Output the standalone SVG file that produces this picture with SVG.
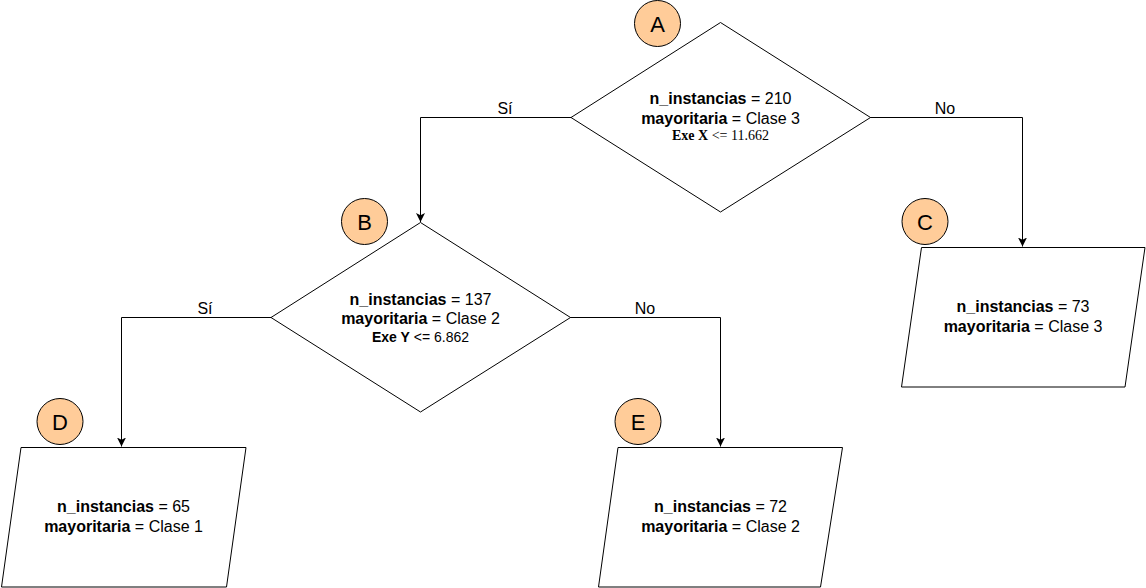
<svg xmlns="http://www.w3.org/2000/svg" width="1146" height="588" viewBox="0 0 1146 588">
<style>
.shape{fill:#fff;stroke:#000;stroke-width:1}
.badge{fill:#FFCC99;stroke:#000;stroke-width:1}
.badge-t{font-family:"Liberation Sans",Arial,sans-serif;font-size:22px;fill:#000;text-anchor:middle}
.t{font-family:"Liberation Sans",Arial,sans-serif;font-size:16px;fill:#000;text-anchor:middle}
.b{font-weight:bold}
.serif{font-family:"Liberation Serif","Times New Roman",serif;font-size:14px}
.small{font-size:14px}
.edge{fill:none;stroke:#000;stroke-width:1}
.lbl{font-family:"Liberation Sans",Arial,sans-serif;font-size:16px;fill:#000;text-anchor:middle}
</style>
<defs>
<marker id="arr" markerUnits="userSpaceOnUse" markerWidth="9" markerHeight="9" viewBox="0 0 8 8" refX="8" refY="4" orient="auto">
<path d="M0,0 L8,4 L0,8 L2,4 Z" fill="#000"/>
</marker>
</defs>
<rect width="1146" height="588" fill="#fff"/>
<g id="connectors">
<path class="edge" d="M571,117.5 H420.5 V222" marker-end="url(#arr)"/>
<text class="lbl" x="505" y="114">Sí</text>
<path class="edge" d="M870,117.5 H1022.5 V246.5" marker-end="url(#arr)"/>
<text class="lbl" x="945" y="114">No</text>
<path class="edge" d="M271,317.5 H121.5 V446.5" marker-end="url(#arr)"/>
<text class="lbl" x="205" y="314">Sí</text>
<path class="edge" d="M570,317.5 H720.5 V446.5" marker-end="url(#arr)"/>
<text class="lbl" x="645" y="314">No</text>
</g>
<g id="nodeA">
<polygon class="shape" points="720.5,22.5 870.5,117.5 720.5,212 571,117.5"/>
<text class="t" x="720.5" y="104"><tspan class="b">n_instancias</tspan> = 210</text>
<text class="t" x="720.5" y="123.5"><tspan class="b">mayoritaria</tspan> = Clase 3</text>
<text class="t serif" x="720.5" y="140"><tspan class="b">Exe X</tspan> &lt;= 11.662</text>
</g>
<g id="badgeA">
<circle class="badge" cx="657.5" cy="23.5" r="23"/>
<text class="badge-t" x="657.5" y="31.5">A</text>
</g>
<g id="nodeB">
<polygon class="shape" points="420.5,222.5 570.5,317.5 420.5,412 271,317.5"/>
<text class="t" x="420.5" y="304.5"><tspan class="b">n_instancias</tspan> = 137</text>
<text class="t" x="420.5" y="324"><tspan class="b">mayoritaria</tspan> = Clase 2</text>
<text class="t small" x="420.5" y="342"><tspan class="b">Exe Y</tspan> &lt;= 6.862</text>
</g>
<g id="badgeB">
<circle class="badge" cx="364.5" cy="221.5" r="23"/>
<text class="badge-t" x="364.5" y="229.5">B</text>
</g>
<g id="nodeC">
<polygon class="shape" points="921.5,247.5 1145,247.5 1125,387 901.5,387"/>
<text class="t" x="1023" y="312"><tspan class="b">n_instancias</tspan> = 73</text>
<text class="t" x="1023" y="332"><tspan class="b">mayoritaria</tspan> = Clase 3</text>
</g>
<g id="badgeC">
<circle class="badge" cx="925" cy="221.5" r="23"/>
<text class="badge-t" x="925" y="229.5">C</text>
</g>
<g id="nodeD">
<polygon class="shape" points="21,447.5 246,447.5 226.5,587 1.5,587"/>
<text class="t" x="123.5" y="512"><tspan class="b">n_instancias</tspan> = 65</text>
<text class="t" x="123.5" y="532"><tspan class="b">mayoritaria</tspan> = Clase 1</text>
</g>
<g id="badgeD">
<circle class="badge" cx="60" cy="421.5" r="23"/>
<text class="badge-t" x="60" y="429.5">D</text>
</g>
<g id="nodeE">
<polygon class="shape" points="618,447.5 842.5,447.5 820.5,587 598.5,587"/>
<text class="t" x="720.5" y="512"><tspan class="b">n_instancias</tspan> = 72</text>
<text class="t" x="720.5" y="532"><tspan class="b">mayoritaria</tspan> = Clase 2</text>
</g>
<g id="badgeE">
<circle class="badge" cx="638" cy="421.5" r="23"/>
<text class="badge-t" x="638" y="429.5">E</text>
</g>
</svg>
